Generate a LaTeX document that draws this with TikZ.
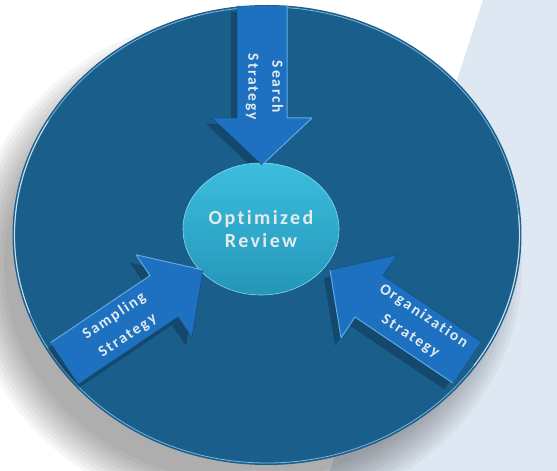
\documentclass[tikz,border=0pt]{standalone}
\usepackage{fontspec}
\newfontfamily\lblfont[LetterSpace=12, Ligatures=NoCommon]{Carlito}
\usetikzlibrary{shapes.geometric}
\definecolor{disc}{RGB}{26,94,140}
\definecolor{discdark}{RGB}{16,66,104}
\definecolor{rimlight}{RGB}{150,205,235}
\definecolor{bgpale}{RGB}{222,232,242}
\definecolor{arrowblue}{RGB}{30,112,192}
\definecolor{arrowlight}{RGB}{95,170,230}
\definecolor{coretop}{RGB}{60,190,222}
\definecolor{corebot}{RGB}{36,150,184}
\definecolor{txt}{RGB}{228,234,238}
\newcommand\arrowbody[1]{%
  \fill[arrowblue] (0,0) -- (-47,50) -- (-47,25) -- (-#1,25) -- (-#1,-25) -- (-47,-25) -- (-47,-50) -- cycle;
  \draw[arrowlight, line width=1pt, line join=round] (-#1,25) -- (-47,25) -- (-47,50) -- (0,0);
  \draw[discdark, opacity=0.5, line width=0.8pt] (0,0) -- (-47,-50) -- (-47,-25) -- (-#1,-25);}
\newcommand\arrowshadow[1]{%
  \fill[black, opacity=0.22] (0,0) -- (-47,50) -- (-47,25) -- (-#1,25) -- (-#1,-25) -- (-47,-25) -- (-47,-50) -- cycle;}
\tikzset{
  lbl/.style={text=txt, align=center, font=\lblfont\bfseries\fontsize{15.5}{24}\selectfont, inner sep=0pt},
  corelbl/.style={text=txt, align=center, font=\lblfont\bfseries\fontsize{20}{23}\selectfont, inner sep=0pt}
}
\begin{document}
\begin{tikzpicture}[x=1pt,y=1pt]
\useasboundingbox (0,0) rectangle (557,471);
\fill[white] (0,0) rectangle (557,471);
\fill[bgpale] (483,471) -- (557,471) -- (557,0) -- (330,0) -- cycle;
% drop shadow
\foreach \k in {0,...,9}
  \fill[black, opacity=0.035] (245,205) ellipse [x radius={277-4*\k}, y radius={252-4*\k}];
% disc
\node[ellipse, minimum width=509pt, minimum height=460pt, inner sep=0pt, fill=disc] (disc) at (267,236) {};
\draw[rimlight, line width=0.8pt, opacity=0.8] (267,236) ellipse [x radius=252.5, y radius=228];
\draw[white, line width=1.2pt, opacity=0.6] (267,236) ++(150:252.5 and 228) arc [start angle=150, end angle=200, x radius=252.5, y radius=228];
\draw[white, line width=1.2pt, opacity=0.6] (267,236) ++(-35:252.5 and 228) arc [start angle=-35, end angle=5, x radius=252.5, y radius=228];
% arrow shadows
\begin{scope}
\clip (267,236) ellipse [x radius=253, y radius=229];
\begin{scope}[shift={(256,300)}, rotate=-90] \arrowshadow{159} \end{scope}
\begin{scope}[shift={(197,193)}, rotate=34] \arrowshadow{164} \end{scope}
\begin{scope}[shift={(324,193)}, rotate=146] \arrowshadow{162} \end{scope}
\end{scope}
% core
\node[ellipse, minimum width=156pt, minimum height=132pt, inner sep=0pt,
  top color=coretop, bottom color=corebot, draw=coretop!60!white, line width=0.6pt] (core) at (261,242) {};
% arrows
\begin{scope}[shift={(262,306)}, rotate=-90] \arrowbody{159} \end{scope}
\begin{scope}[shift={(203,201)}, rotate=34] \arrowbody{167} \end{scope}
\begin{scope}[shift={(330,201)}, rotate=146] \arrowbody{165} \end{scope}
% labels
\node[corelbl] (coretxt) at (core.center) {Optimized\\Review};
\node[lbl, rotate=-90] (searchtxt) at (264.5,384) {Search\\Strategy};
\node[lbl, rotate=34] (samplingtxt) at (121,145) {Sampling\\Strategy};
\node[lbl, rotate=-33.5] (orgtxt) at (417,145) {Organization\\Strategy};
\end{tikzpicture}
\end{document}
